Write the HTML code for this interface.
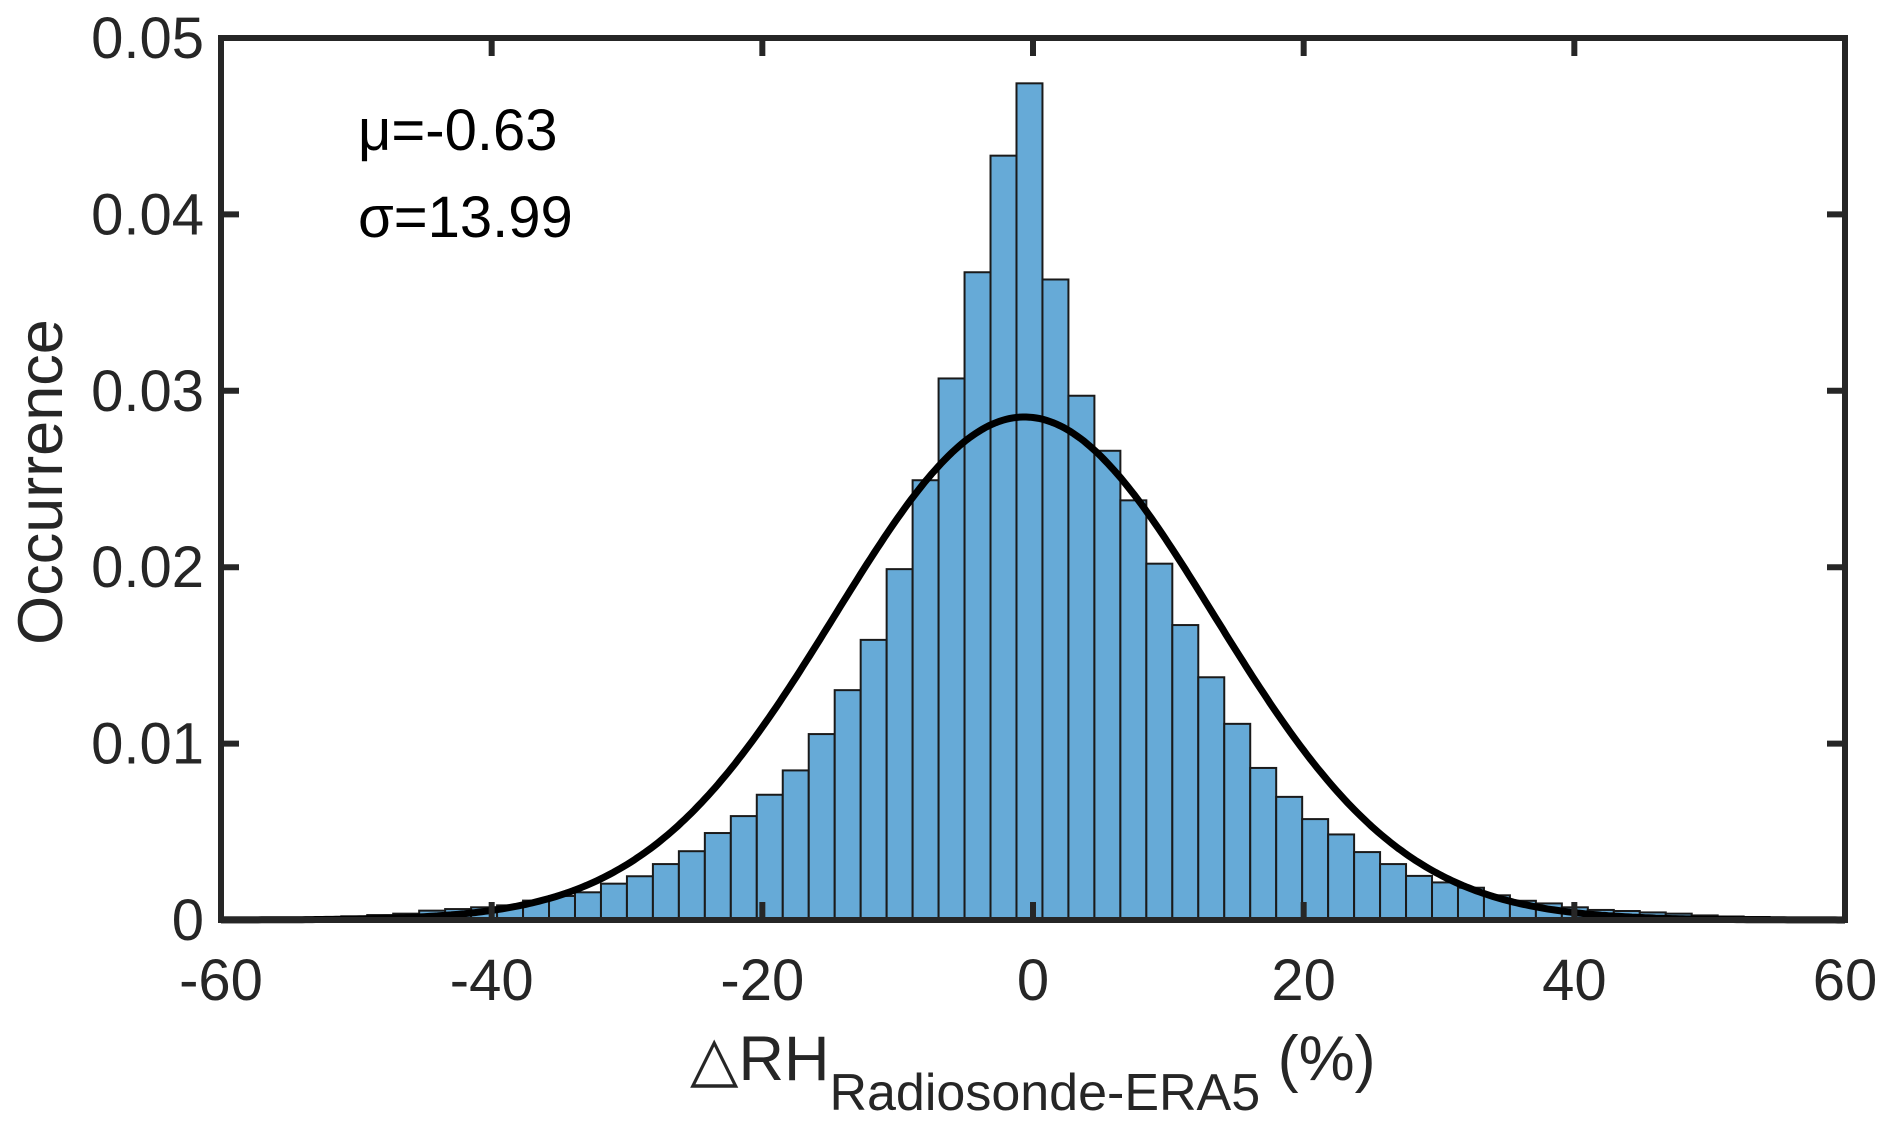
<!DOCTYPE html>
<html><head><meta charset="utf-8"><style>
html,body{margin:0;padding:0;background:#fff;}
svg{display:block;font-family:"Liberation Sans",Arial,sans-serif;}
</style></head><body>
<svg id="chart" width="1892" height="1133" viewBox="0 0 1892 1133" xmlns="http://www.w3.org/2000/svg">
<g id="bars"></g>
<path id="curve" fill="none" stroke="#000" stroke-width="7"/>
<g id="axes"></g>
<text x="358" y="150" font-size="58" fill="#000">μ=-0.63</text>
<text x="358" y="237" font-size="58" fill="#000">σ=13.99</text>
<text transform="translate(62,482) rotate(-90)" text-anchor="middle" font-size="63" fill="#262626">Occurrence</text>
<text x="690" y="1080" font-size="63" fill="#262626">△RH<tspan font-size="52" dy="30">Radiosonde-ERA5</tspan><tspan dy="-30"> (%)</tspan></text>
</svg>
<script>
const binStart = -58.79;
const binWidth = 1.919;
const counts = [0.00008,0.0001,0.00012,0.00016,0.00021,0.00028,0.00036,0.00053,0.00062,0.00072,
0.00083,0.0011,0.00136,0.00157,0.00206,0.00248,0.00317,0.0039,0.00493,0.00589,
0.0071,0.00848,0.01054,0.01303,0.01588,0.01989,0.02493,0.0307,0.03672,0.04333,
0.04743,0.03631,0.02972,0.0266,0.02379,0.0202,0.01672,0.01376,0.01112,0.00862,
0.00698,0.00572,0.00485,0.00385,0.00317,0.0025,0.00213,0.00183,0.0014,0.00109,
0.00094,0.00072,0.00057,0.00051,0.00043,0.00036,0.00026,0.0002,0.00017,0.00012,0.0001];
const fitMu = -0.63;
const fitSigma = 13.99;
const xTicks = [-60,-40,-20,0,20,40,60];
const yTicks = [0,0.01,0.02,0.03,0.04,0.05];
const yTickLabels = ["0","0.01","0.02","0.03","0.04","0.05"];

const L=221,R=1845,T=38,B=920;
const xs = v => L + (v+60)/120*(R-L);
const ys = v => B - v/0.05*(B-T);
const NS="http://www.w3.org/2000/svg";
const bars=document.getElementById('bars');
counts.forEach((c,i)=>{
  const x0=xs(binStart+i*binWidth), x1=xs(binStart+(i+1)*binWidth);
  const r=document.createElementNS(NS,'rect');
  r.setAttribute('x',x0);r.setAttribute('width',x1-x0);
  r.setAttribute('y',ys(c));r.setAttribute('height',B-ys(c));
  r.setAttribute('fill','#66aad7');r.setAttribute('stroke','#1a1a1a');r.setAttribute('stroke-width','2');
  
  
  bars.appendChild(r);
});
let d='';
for(let v=-60;v<=60;v+=0.25){
  const p=Math.exp(-0.5*((v-fitMu)/fitSigma)**2)/(fitSigma*Math.sqrt(2*Math.PI));
  d+=(d?'L':'M')+xs(v).toFixed(1)+','+ys(p).toFixed(1);
}
document.getElementById('curve').setAttribute('d',d);
const ax=document.getElementById('axes');
function add(tag,attrs,name,txt){const e=document.createElementNS(NS,tag);for(const k in attrs)e.setAttribute(k,attrs[k]);
  
  
  if(txt!==undefined)e.textContent=txt;ax.appendChild(e);return e;}
xTicks.forEach(t=>{
  const x=xs(t);
  if(t>-60&&t<60){
    add('line',{x1:x,x2:x,y1:B,y2:B-18,stroke:'#262626','stroke-width':6},'x-tick');
    add('line',{x1:x,x2:x,y1:T,y2:T+18,stroke:'#262626','stroke-width':6},'x-tick-top');
  }
  add('text',{x:x,y:1000,'text-anchor':'middle','font-size':58,fill:'#262626'},'x-tick-label',String(t));
});
yTicks.forEach((t,i)=>{
  const y=ys(t);
  if(t>0&&t<0.05){
    add('line',{x1:L,x2:L+18,y1:y,y2:y,stroke:'#262626','stroke-width':6},'y-tick');
    add('line',{x1:R,x2:R-18,y1:y,y2:y,stroke:'#262626','stroke-width':6},'y-tick-right');
  }
  add('text',{x:204,y:y+20,'text-anchor':'end','font-size':58,fill:'#262626'},'y-tick-label',yTickLabels[i]);
});
add('rect',{x:L,y:T,width:R-L,height:B-T,fill:'none',stroke:'#262626','stroke-width':6},'plot-frame');
</script>
</body></html>
